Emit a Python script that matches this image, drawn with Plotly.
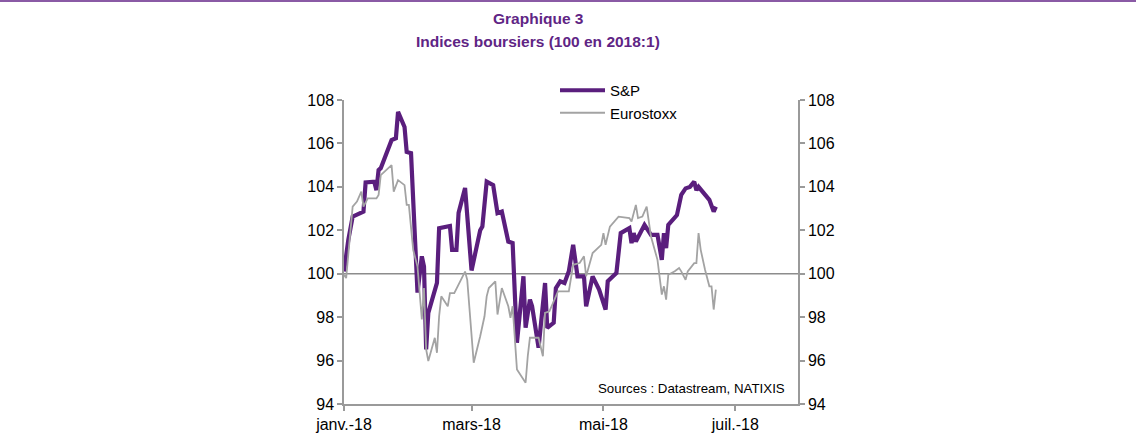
import plotly.graph_objects as go

# ---- data ----
sp_dates = ["2018-01-01","2018-01-03","2018-01-05","2018-01-10","2018-01-11","2018-01-15","2018-01-16","2018-01-17","2018-01-18","2018-01-23","2018-01-25","2018-01-26","2018-01-29","2018-01-30",
            "2018-02-01","2018-02-04","2018-02-06","2018-02-07","2018-02-08","2018-02-09","2018-02-13","2018-02-14","2018-02-19","2018-02-20","2018-02-22","2018-02-23","2018-02-26",
            "2018-03-01","2018-03-05","2018-03-06","2018-03-08","2018-03-11","2018-03-13","2018-03-15","2018-03-18","2018-03-20","2018-03-22","2018-03-25","2018-03-26","2018-03-28","2018-03-29",
            "2018-04-01","2018-04-04","2018-04-05","2018-04-08","2018-04-09","2018-04-11","2018-04-13","2018-04-15","2018-04-17","2018-04-19","2018-04-22","2018-04-23","2018-04-26","2018-04-29","2018-04-30",
            "2018-05-02","2018-05-03","2018-05-07","2018-05-09","2018-05-13","2018-05-14","2018-05-15","2018-05-16","2018-05-20","2018-05-23","2018-05-26","2018-05-28","2018-05-29","2018-05-30","2018-05-31",
            "2018-06-04","2018-06-06","2018-06-08","2018-06-10","2018-06-12","2018-06-13","2018-06-14","2018-06-17","2018-06-19","2018-06-21","2018-06-22"]
sp_values = [100.1,101.56,102.63,102.86,104.2,104.24,103.85,104.77,104.86,106.15,106.24,107.45,106.76,105.61,
             105.55,99.13,100.8,100.33,96.51,98.2,99.58,102.1,102.2,101.1,101.1,102.8,103.95,
             100.15,102.0,102.17,104.24,104.08,102.79,102.86,101.48,101.41,96.82,99.88,97.51,98.81,98.5,
             96.59,99.57,97.51,97.74,99.34,99.65,99.57,100.11,101.33,99.88,99.88,98.5,99.88,99.27,99.0,
             98.35,99.65,100.03,101.87,102.1,101.41,101.87,101.48,102.25,101.79,101.79,100.64,101.87,101.18,102.25,
             102.7,103.63,103.93,104.0,104.24,103.85,104.0,103.63,103.4,102.86,103.09]

eu_dates = ["2018-01-01","2018-01-02","2018-01-05","2018-01-07","2018-01-09","2018-01-10","2018-01-12","2018-01-16","2018-01-17","2018-01-18","2018-01-23","2018-01-24","2018-01-26","2018-01-29","2018-01-30","2018-01-31",
            "2018-02-02","2018-02-04","2018-02-06","2018-02-07","2018-02-08","2018-02-09","2018-02-12","2018-02-13","2018-02-14","2018-02-15","2018-02-18","2018-02-19","2018-02-21","2018-02-26","2018-02-27",
            "2018-03-02","2018-03-05","2018-03-07","2018-03-08","2018-03-09","2018-03-12","2018-03-13","2018-03-15","2018-03-18","2018-03-19","2018-03-20","2018-03-22","2018-03-26","2018-03-27","2018-03-28",
            "2018-04-01","2018-04-03","2018-04-04","2018-04-06","2018-04-09","2018-04-10","2018-04-15","2018-04-17","2018-04-20","2018-04-22","2018-04-23","2018-04-26","2018-04-30",
            "2018-05-01","2018-05-02","2018-05-04","2018-05-08","2018-05-13","2018-05-14","2018-05-16","2018-05-17","2018-05-19","2018-05-21","2018-05-23","2018-05-26","2018-05-28","2018-05-29","2018-05-30","2018-05-31",
            "2018-06-03","2018-06-05","2018-06-06","2018-06-08","2018-06-09","2018-06-12","2018-06-13","2018-06-14","2018-06-15","2018-06-17","2018-06-19","2018-06-20","2018-06-21","2018-06-22"]
eu_values = [99.95,99.8,103.09,103.32,103.78,103.09,103.47,103.47,103.63,104.54,105.0,103.78,104.31,104.08,103.17,103.17,
             101.1,100.33,97.89,99.34,96.51,95.98,97.05,96.36,98.04,98.96,98.5,99.11,99.11,100.1,99.72,
             95.9,97.12,98.04,98.96,99.34,99.65,98.12,99.34,98.5,97.97,98.5,95.59,94.98,96.2,97.05,
             97.05,96.2,98.2,98.27,98.96,99.19,99.19,100.41,100.49,100.8,99.88,100.95,101.33,
             101.87,101.33,102.17,102.63,102.56,102.4,103.17,102.56,102.63,103.09,101.71,100.64,99.04,99.42,98.81,99.95,
             100.11,100.26,100.11,99.72,100.11,100.49,100.49,101.87,101.1,100.18,99.42,99.42,98.35,99.27]

x_tick_vals = ["2018-01-01", "2018-03-01", "2018-05-01", "2018-07-01"]
x_tick_text = ["janv.-18", "mars-18", "mai-18", "juil.-18"]
y_ticks = [94, 96, 98, 100, 102, 104, 106, 108]
base_level = 100
title_lines = ["Graphique 3", "Indices boursiers (100 en 2018:1)"]
source_text = "Sources : Datastream, NATIXIS"

# ---- styles ----
PURPLE = "#5a1e7d"
TITLE_PURPLE = "#5f2585"
GREY = "#a3a3a3"
AXIS = "#9a9a9a"
FONT = "Liberation Sans, Arial, sans-serif"

# plot area in pixels
L, R, T, B = 344, 798, 100, 404
PW, PH = R - L, B - T


def px_x(x):
    return (x - L) / PW


def px_y(y):
    return (B - y) / PH


fig = go.Figure()
fig.add_trace(go.Scatter(x=sp_dates, y=sp_values, name="S&P", mode="lines",
                         line=dict(color=PURPLE, width=4.2)))
fig.add_trace(go.Scatter(x=eu_dates, y=eu_values, name="Eurostoxx", mode="lines",
                         line=dict(color=GREY, width=1.8)))
# invisible copy to activate the right axis
fig.add_trace(go.Scatter(x=sp_dates, y=sp_values, yaxis="y2", mode="lines", opacity=0,
                         showlegend=False, hoverinfo="skip", line=dict(width=0)))

axis_common = dict(showline=True, linecolor=AXIS, linewidth=1.5, ticks="outside",
                   ticklen=5, tickwidth=1.5, tickcolor=AXIS, showgrid=False, zeroline=False,
                   tickfont=dict(family=FONT, size=16, color="#000000"))

fig.update_layout(
    width=1136, height=448,
    margin=dict(l=L, r=1136 - R, t=T, b=448 - B),
    paper_bgcolor="white", plot_bgcolor="white",
    xaxis=dict(type="date", range=["2018-01-01", "2018-07-30"],
               tickvals=x_tick_vals, ticktext=x_tick_text, **axis_common),
    yaxis=dict(range=[94, 108], tickvals=y_ticks, **axis_common),
    yaxis2=dict(range=[94, 108], tickvals=y_ticks, overlaying="y", side="right", **axis_common),
    legend=dict(x=px_x(555), y=px_y(74), xanchor="left", yanchor="top",
                bgcolor="rgba(0,0,0,0)", itemwidth=45, tracegroupgap=0,
                font=dict(family=FONT, size=15, color="#000000")),
    showlegend=True,
    shapes=[
        dict(type="line", xref="paper", x0=0, x1=1, yref="y", y0=base_level, y1=base_level,
             line=dict(color="#8c8c8c", width=1.5), layer="below"),
        dict(type="line", xref="paper", x0=px_x(0), x1=px_x(1136), yref="paper",
             y0=px_y(1), y1=px_y(1), line=dict(color="#8a5aa5", width=2)),
    ],
    annotations=[
        dict(text="<b>%s</b>" % title_lines[0], xref="paper", yref="paper",
             x=px_x(538), y=px_y(18), xanchor="center", yanchor="middle", showarrow=False,
             font=dict(family=FONT, size=15.5, color=TITLE_PURPLE)),
        dict(text="<b>%s</b>" % title_lines[1], xref="paper", yref="paper",
             x=px_x(538), y=px_y(42), xanchor="center", yanchor="middle", showarrow=False,
             font=dict(family=FONT, size=15.5, color=TITLE_PURPLE)),
        dict(text=source_text, xref="paper", yref="paper",
             x=px_x(787), y=px_y(388), xanchor="right", yanchor="middle",
             showarrow=False, font=dict(family=FONT, size=13.3, color="#000000")),
    ],
)

fig.write_html("out.html", config={"displayModeBar": False},
               post_script="document.body.style.margin='0px';")
